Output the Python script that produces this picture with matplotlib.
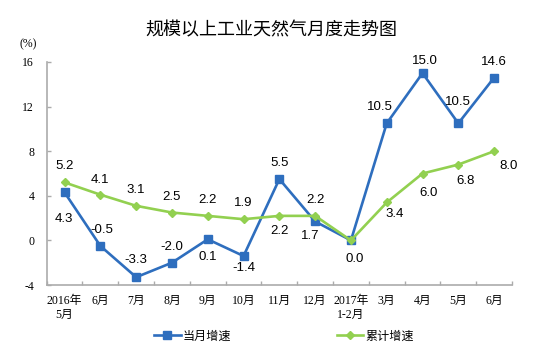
import matplotlib
matplotlib.use("Agg")
import matplotlib.pyplot as plt
import numpy as np

categories = ["2016年\n5月", "6月", "7月", "8月", "9月", "10月", "11月", "12月",
              "2017年\n1-2月", "3月", "4月", "5月", "6月"]
monthly = [4.3, -0.5, -3.3, -2.0, 0.1, -1.4, 5.5, 1.7, 0.0, 10.5, 15.0, 10.5, 14.6]
cumulative = [5.2, 4.1, 3.1, 2.5, 2.2, 1.9, 2.2, 2.2, 0.0, 3.4, 6.0, 6.8, 8.0]
yticks = [-4, 0, 4, 8, 12, 16]

# label offsets in pixels (dx, dy with dy positive = down)
monthly_off = [(-1, 27), (1, -16), (0, -17), (0, -16), (0, 18), (0, 12), (0, -16),
               (-5, 15), (4, 19), (-7, -16), (2, -12), (0, -21), (0, -16)]
cum_off = [(0, -16), (0, -15), (0, -16), (0, -16), (0, -16), (0, -16), (0, 15),
           (0, -16), None, (8, 12), (6, 19), (7, 16), (14, 15)]

plt.rcParams['axes.unicode_minus'] = False
W, H = 554, 353
fig = plt.figure(figsize=(W / 100, H / 100), dpi=100)
ax = fig.add_axes([46.7 / W, 1 - 285 / H, (512 - 46.7) / W, (285 - 62) / H])

blue = "#2E6EBE"
green = "#92D050"
x = np.arange(len(categories))
l1, = ax.plot(x, monthly, color=blue, lw=1.9, marker='s', ms=6, zorder=3, label="当月增速")
l2, = ax.plot(x, cumulative, color=green, lw=1.9, marker='D', ms=3.6, zorder=4, label="累计增速")

lab_font = dict(family=['Liberation Sans', 'DejaVu Sans'], size=9.5, color='#000000')
for i, v in enumerate(monthly):
    dx, dy = monthly_off[i]
    ax.annotate(f"{v:.1f}", (x[i], v), xytext=(dx, -dy), textcoords='offset pixels',
                ha='center', va='center', zorder=5, **lab_font)
for i, v in enumerate(cumulative):
    if cum_off[i] is None:
        continue
    dx, dy = cum_off[i]
    ax.annotate(f"{v:.1f}", (x[i], v), xytext=(dx, -dy), textcoords='offset pixels',
                ha='center', va='center', zorder=5, **lab_font)

ax.set_xlim(-0.5, len(categories) - 0.5)
ax.set_ylim(-4, 16)
ax.set_yticks(yticks)
ax.set_yticklabels([str(t) for t in yticks])
ax.set_xticks(x)
ax.set_xticklabels(categories, linespacing=1.25)
ax.set_xticks(np.arange(-0.5, len(categories), 1), minor=True)

tick_font = ['Liberation Serif', 'Noto Sans CJK SC']
for lbl in ax.get_xticklabels() + ax.get_yticklabels():
    lbl.set_family(tick_font)
    lbl.set_fontsize(8.5)

axis_c = "#ABABAB"
ax.tick_params(axis='x', which='major', length=0, pad=7)
ax.tick_params(axis='x', which='minor', direction='in', length=3, color=axis_c, width=1)
ax.tick_params(axis='y', direction='in', length=3, color=axis_c, width=1, pad=9)
for s in ['top', 'right']:
    ax.spines[s].set_visible(False)
for s in ['left', 'bottom']:
    ax.spines[s].set_color(axis_c)
    ax.spines[s].set_linewidth(1.2)

fig.text(28 / W, 1 - 44 / H, "(%)", ha='center', va='center',
         family=tick_font, fontsize=8.5)
fig.text(271 / W, 1 - 30 / H, "规模以上工业天然气月度走势图", ha='center', va='center',
         family=['Noto Sans CJK SC', 'DejaVu Sans'], fontsize=13)

fig.legend(handles=[l1, l2], loc='center', bbox_to_anchor=(284 / W, 1 - 336 / H),
           ncol=2, frameon=False, handlelength=2.2, handletextpad=0.2,
           columnspacing=8.7, prop=dict(family=['Noto Sans CJK SC', 'DejaVu Sans'], size=8.7))

fig.savefig("out.png", dpi=100)
